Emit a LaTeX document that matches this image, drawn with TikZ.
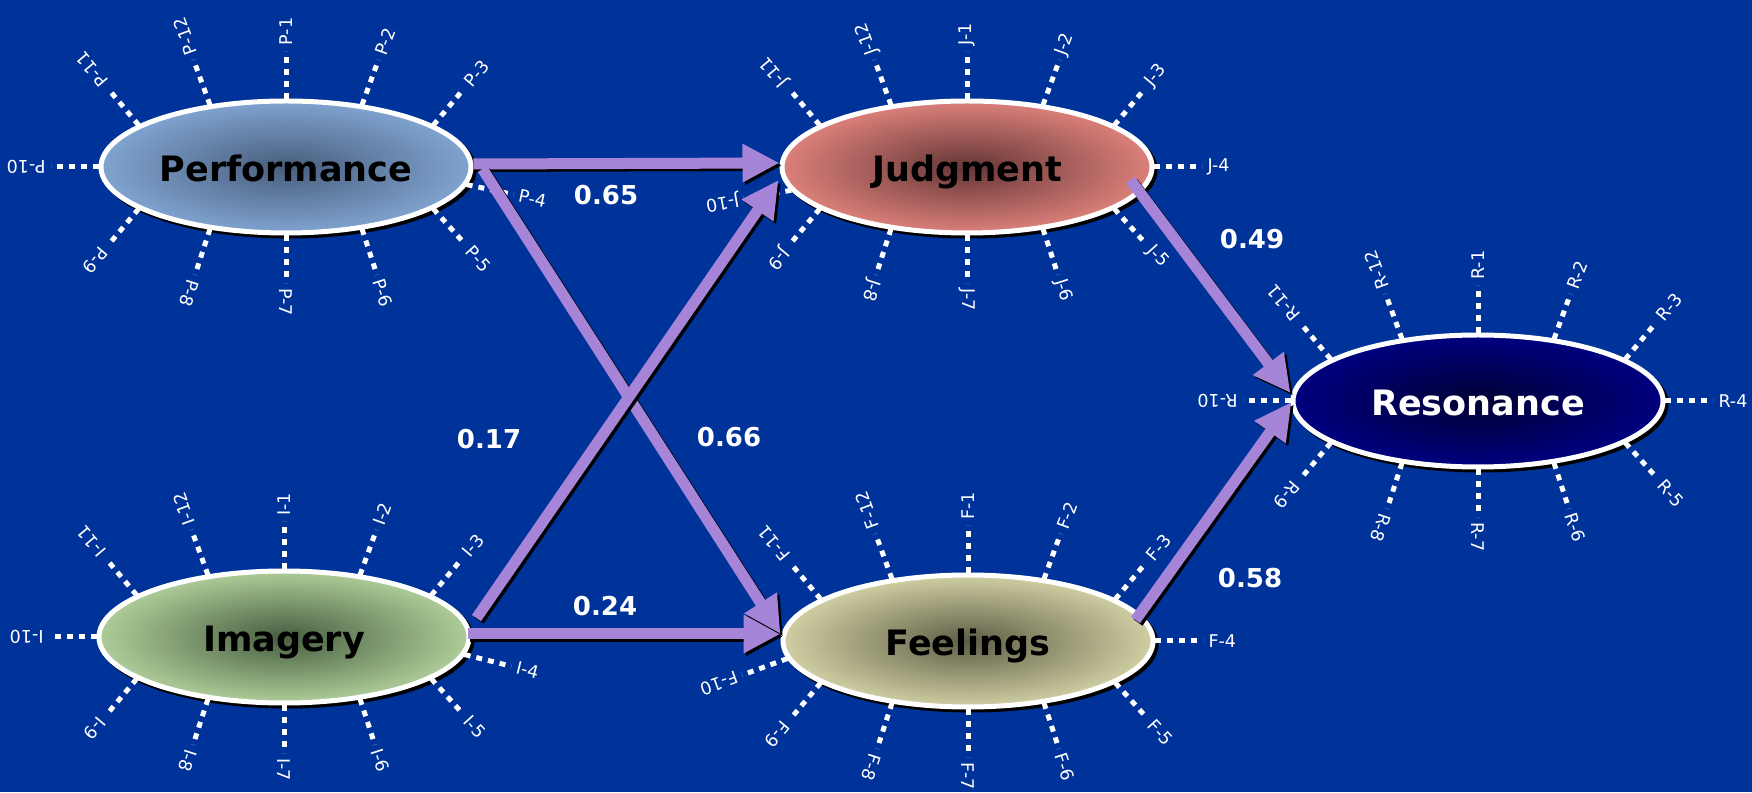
\documentclass[tikz,border=0pt]{standalone}
\usepackage{fontspec}
\setmainfont{DejaVu Sans}
\usetikzlibrary{arrows.meta,shapes.geometric,shadows,calc}
\definecolor{bgblue}{RGB}{0,51,153}
\definecolor{lilac}{RGB}{166,133,216}
\definecolor{perfout}{RGB}{128,163,208}
\definecolor{perfin}{RGB}{72,94,124}
\definecolor{judgout}{RGB}{220,128,122}
\definecolor{judgin}{RGB}{100,54,54}
\definecolor{imagout}{RGB}{174,204,152}
\definecolor{imagin}{RGB}{70,94,64}
\definecolor{feelout}{RGB}{208,206,162}
\definecolor{feelin}{RGB}{94,94,70}
\definecolor{resoout}{RGB}{0,0,128}
\definecolor{resoin}{RGB}{0,0,52}
\tikzset{
  construct/.style={ellipse, draw=white, line width=5pt,
    minimum width=370pt, minimum height=132pt, inner sep=0pt,
    text height=30pt, text depth=0pt,
    font=\fontsize{35}{40}\selectfont\bfseries, text=black,
    drop shadow={shadow xshift=3pt, shadow yshift=-3pt, opacity=1, fill=black, draw=black, line width=5pt}},
  spoke/.style={draw=white, line width=5pt, dash pattern=on 6pt off 6pt},
  spokelabel/.style={text=white, font=\fontsize{17.5}{20}\selectfont, anchor=west, inner sep=3pt},
  link/.style={draw=lilac, line width=11pt, -{Triangle[length=37pt, width=36pt]}},
  linkshadow/.style={link, draw=black, transform canvas={shift={(2.5pt,-2.5pt)}}},
  coef/.style={text=white, font=\fontsize{26}{30}\selectfont\bfseries},
}
\begin{document}
\begin{tikzpicture}[x=1pt, y=1pt]
\fill[bgblue] (0,0) rectangle (1752,792);
\useasboundingbox (0,0) rectangle (1752,792);

% constructs
\node[construct, inner color=perfin, outer color=perfout] (perf) at (286,625) {Performance};
\node[construct, inner color=judgin, outer color=judgout] (judg) at (967,625) {Judgment};
\node[construct, inner color=imagin, outer color=imagout] (imag) at (284,155) {Imagery};
\node[construct, inner color=feelin, outer color=feelout] (feel) at (968,151) {Feelings};
\node[construct, inner color=resoin, outer color=resoout, text=white] (reso) at (1478,391) {Resonance};

% items round each construct
\foreach \n/\c/\pf/\df/\pz/\dz in {perf/P/-15/-12/180/180, judg/J/0/0/200/190, imag/I/-15/-14/180/180, feel/F/0/0/195/200, reso/R/0/0/180/180}
  \foreach \pa/\dir/\idx in {90/90/1, 66/70/2, 38/50/3, \pf/\df/4, -38/-48/5, -66/-72/6, -90/-90/7, -114/-108/8, -142/-130/9, \pz/\dz/10, 142/130/11, 114/110/12}
    \draw[spoke] ($(\n.center)+(\pa:187pt and 68pt)$) -- ++(\dir:48pt) node[spokelabel, rotate=\dir] {\c-\idx};

% path ends
\coordinate (pjs) at ($(perf.east)+(0,3)$);
\coordinate (pje) at ($(judg.west)+(0,4)$);
\coordinate (pfs) at ($(perf.east)+(9,-2)$);
\coordinate (fin) at ($(feel.west)+(0,7)$);
\coordinate (ijs) at ($(imag.east)+(5,19)$);
\coordinate (ije) at ($(judg.west)+(-1,-13)$);
\coordinate (ifs) at ($(imag.east)+(-4,3)$);
\coordinate (jrs) at ($(judg.east)+(-24,-13)$);
\coordinate (jre) at ($(reso.west)+(0,8)$);
\coordinate (frs) at ($(feel.east)+(-20,21)$);
\coordinate (fre) at ($(reso.west)+(1,-1)$);

\foreach \src/\dst in {pjs/pje, ifs/fin, pfs/fin, ijs/ije, frs/fre, jrs/jre} {
  \draw[linkshadow] (\src) -- (\dst);
  \draw[link] (\src) -- (\dst);
}

% path coefficients
\node[coef] (w1) at (606,597) {0.65};
\node[coef] (w2) at (489,353) {0.17};
\node[coef] (w3) at (729,355) {0.66};
\node[coef] (w4) at (605,186) {0.24};
\node[coef] (w5) at (1252,553) {0.49};
\node[coef] (w6) at (1250,214) {0.58};
\end{tikzpicture}
\end{document}
